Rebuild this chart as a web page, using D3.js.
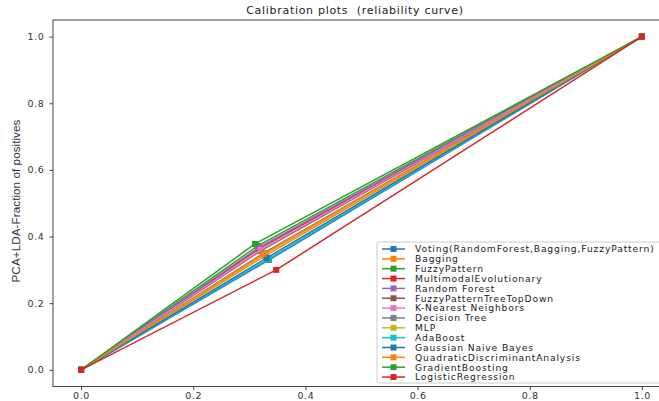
<!DOCTYPE html>
<html>
<head>
<meta charset="utf-8">
<script src="https://cdn.jsdelivr.net/npm/d3@7"></script>
<style>
  body { margin: 0; background: #fff; }
  svg { display: block; }
</style>
</head>
<body>
<div id="chart"></div>
<script>

// names of the models, in legend order
const models = [
  'Voting(RandomForest,Bagging,FuzzyPattern)',
  'Bagging',
  'FuzzyPattern',
  'MultimodalEvolutionary',
  'Random Forest',
  'FuzzyPatternTreeTopDown',
  'K-Nearest Neighbors',
  'Decision Tree',
  'MLP',
  'AdaBoost',
  'Gaussian Naive Bayes',
  'QuadraticDiscriminantAnalysis',
  'GradientBoosting',
  'LogisticRegression'
];

// mean predicted value at the middle bin, one per model
const midPredicted = [0.335, 0.328, 0.315, 0.317, 0.318, 0.320, 0.320, 0.325, 0.326, 0.334, 0.331, 0.325, 0.310, 0.348];
// fraction of positives at the middle bin
const midFraction  = [0.330, 0.342, 0.372, 0.363, 0.368, 0.357, 0.360, 0.350, 0.346, 0.333, 0.336, 0.348, 0.378, 0.300];

const xTicks = [0.0, 0.2, 0.4, 0.6, 0.8, 1.0];
const yTicks = [0.0, 0.2, 0.4, 0.6, 0.8, 1.0];

const colors = ['#1f77b4', '#ff7f0e', '#2ca02c', '#d62728', '#9467bd', '#8c564b',
                '#e377c2', '#7f7f7f', '#bcbd22', '#17becf'];

// each curve: (0,0) -> middle bin -> (1,1)
const curves = models.map((name, i) => ({
  name: name,
  color: colors[i % colors.length],
  points: [[0, 0], [midPredicted[i], midFraction[i]], [1, 1]]
}));

let dims = { width: 659, height: 401 };
let plot = { left: 53, top: 20, right: 670, bottom: 386.5 };

const svg = d3.select('#chart').append('svg')
  .attr('width', dims.width)
  .attr('height', dims.height)
  .style('font-family', '"DejaVu Sans", sans-serif');

const xScale = d3.scaleLinear().domain([-0.05, 1.05]).range([plot.left, plot.right]);
const yScale = d3.scaleLinear().domain([-0.05, 1.05]).range([plot.bottom, plot.top]);

// axes
const xAxis = svg.append('g')
  .attr('transform', `translate(0,${plot.bottom})`)
  .call(d3.axisBottom(xScale).tickValues(xTicks).tickFormat(d3.format('.1f')).tickSizeOuter(0).tickSize(3.5).tickPadding(2));
const yAxis = svg.append('g')
  .attr('transform', `translate(${plot.left},0)`)
  .call(d3.axisLeft(yScale).tickValues(yTicks).tickFormat(d3.format('.1f')).tickSizeOuter(0).tickSize(3.5).tickPadding(5));

[xAxis, yAxis].forEach(ax => {
  ax.select('.domain').remove();
  ax.selectAll('line').attr('stroke', '#444');
  ax.selectAll('text').attr('fill', '#333')
    .style('font-size', '9.5px')
    .style('letter-spacing', '0.6px')
    .style('font-family', '"DejaVu Sans", sans-serif');
});

// spines
svg.append('rect')
  .attr('x', plot.left).attr('y', plot.top)
  .attr('width', plot.right - plot.left).attr('height', plot.bottom - plot.top)
  .attr('fill', 'none').attr('stroke', '#444').attr('stroke-width', 1);

// curves
const line = d3.line().x(d => xScale(d[0])).y(d => yScale(d[1]));
const ms = 6;

const curveGroups = svg.append('g').selectAll('g')
  .data(curves)
  .join('g');

curveGroups.append('path')
  .attr('d', d => line(d.points))
  .attr('fill', 'none')
  .attr('stroke', d => d.color)
  .attr('stroke-width', 1.5);

curveGroups.selectAll('rect')
  .data(d => d.points.map(p => ({ p: p, color: d.color })))
  .join('rect')
  .attr('x', d => xScale(d.p[0]) - ms / 2)
  .attr('y', d => yScale(d.p[1]) - ms / 2)
  .attr('width', ms).attr('height', ms)
  .attr('fill', d => d.color);

// title (keep the double space)
svg.append('text')
  .attr('x', 355).attr('y', 14)
  .attr('text-anchor', 'middle')
  .style('font-size', '11px')
  .style('letter-spacing', '0.7px')
  .style('white-space', 'pre')
  .attr('fill', '#222')
  .text('Calibration plots  (reliability curve)');

// y label
svg.append('text')
  .attr('transform', `translate(20,${201}) rotate(-90)`)
  .attr('text-anchor', 'middle')
  .attr('textLength', 163)
  .attr('lengthAdjust', 'spacingAndGlyphs')
  .style('font-family', '"Liberation Sans Narrow", "Liberation Sans", sans-serif')
  .style('font-size', '10.5px')
  .attr('fill', '#333')
  .text('PCA+LDA-Fraction of positives');

// legend
const lg = { x: 377, y: 242, row: 9.85 };
const legend = svg.append('g');
legend.append('rect')
  .attr('x', lg.x).attr('y', lg.y)
  .attr('width', 300).attr('height', 141)
  .attr('rx', 2)
  .attr('fill', '#fff').attr('fill-opacity', 0.85)
  .attr('stroke', '#ccc');

const items = legend.selectAll('g.item')
  .data(curves)
  .join('g')
  .attr('class', 'item')
  .attr('transform', (d, i) => `translate(${lg.x},${lg.y + 7 + i * lg.row})`);

items.append('line')
  .attr('x1', 5).attr('x2', 28)
  .attr('stroke', d => d.color).attr('stroke-width', 1.5);
items.append('rect')
  .attr('x', 16.5 - 3).attr('y', -3)
  .attr('width', 6).attr('height', 6)
  .attr('fill', d => d.color);
items.append('text')
  .attr('x', 38).attr('y', 3.3)
  .style('font-size', '9.2px')
  .style('letter-spacing', '0.85px')
  .attr('fill', '#222')
  .text(d => d.name);

</script>
</body>
</html>
